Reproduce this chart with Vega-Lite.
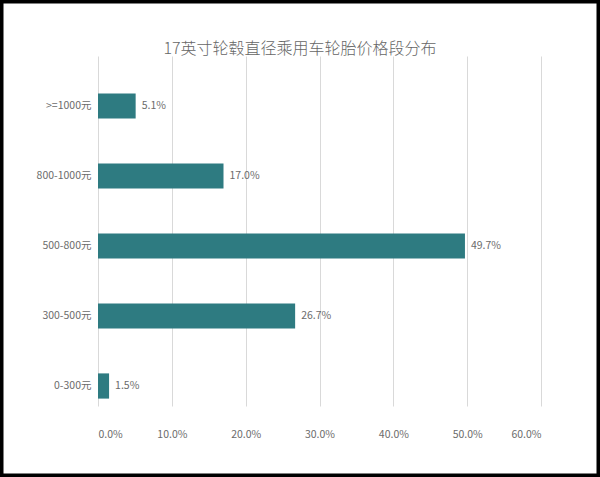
{
  "$schema": "https://vega.github.io/schema/vega-lite/v6.json",
  "width": 600,
  "height": 477,
  "autosize": {"type": "none"},
  "padding": 0,
  "background": "white",
  "title": {
    "text": "17英寸轮毂直径乘用车轮胎价格段分布",
    "anchor": "middle",
    "offset": -57,
    "fontSize": 16,
    "fontWeight": 300,
    "color": "#666666",
    "font": "Noto Sans CJK SC"
  },
  "data": {
    "values": [
      {"range": ">=1000元", "share": 0.051},
      {"range": "800-1000元", "share": 0.170},
      {"range": "500-800元", "share": 0.497},
      {"range": "300-500元", "share": 0.267},
      {"range": "0-300元", "share": 0.015}
    ]
  },
  "encoding": {
    "y": {
      "field": "range",
      "type": "nominal",
      "sort": null,
      "scale": {"range": [71, 421], "paddingInner": 0.64, "paddingOuter": 0.32},
      "axis": {
        "title": null,
        "orient": "left",
        "offset": -98,
        "domain": false,
        "ticks": false,
        "grid": false,
        "labelPadding": 7,
        "labelFontSize": 10.5,
        "labelColor": "#6b6b6b",
        "labelFont": "Noto Sans CJK SC"
      }
    },
    "x": {
      "field": "share",
      "type": "quantitative",
      "scale": {"domain": [0, 0.6], "range": [98, 541], "nice": false, "zero": true},
      "axis": {
        "title": null,
        "orient": "bottom",
        "offset": -56,
        "values": [0, 0.1, 0.2, 0.3, 0.4, 0.5, 0.6],
        "format": ".1%",
        "domain": false,
        "ticks": false,
        "grid": true,
        "gridColor": "#d9d9d9",
        "gridWidth": 1,
        "labelPadding": 8,
        "labelFontSize": 10.5,
        "labelColor": "#6b6b6b",
        "labelFont": "Noto Sans CJK SC"
      }
    }
  },
  "layer": [
    {"mark": {"type": "bar", "color": "#2E7B81"}},
    {
      "mark": {
        "type": "text",
        "align": "left",
        "baseline": "middle",
        "dx": 6,
        "fontSize": 10.5,
        "color": "#6b6b6b",
        "font": "Noto Sans CJK SC"
      },
      "encoding": {"text": {"field": "share", "type": "quantitative", "format": ".1%"}}
    }
  ],
  "config": {
    "view": {"stroke": "black", "strokeWidth": 7}
  }
}
